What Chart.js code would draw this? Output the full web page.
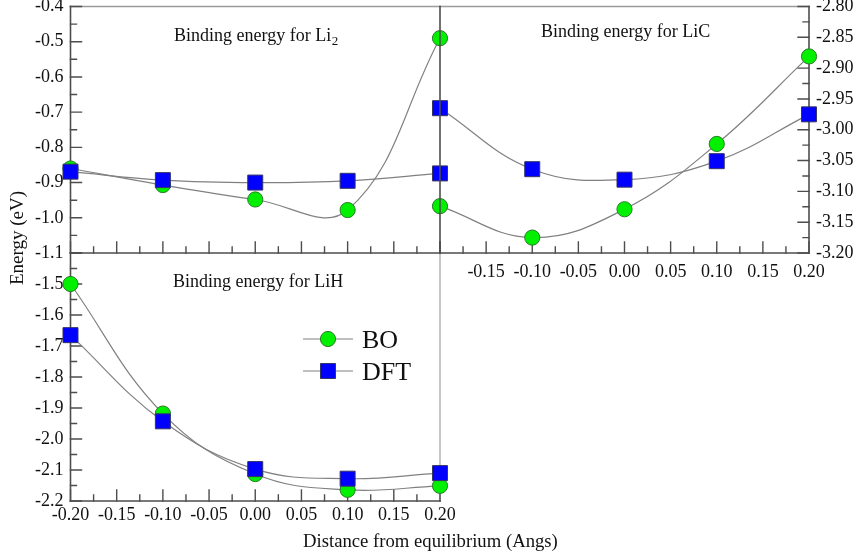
<!DOCTYPE html>
<html>
<head>
<meta charset="utf-8">
<script src="https://cdn.jsdelivr.net/npm/chart.js@4.4.1/dist/chart.umd.min.js"></script>
<style>
  html, body { margin: 0; padding: 0; background: #fff; }
  #wrap { position: relative; width: 857px; height: 558px; }
  #wrap canvas { position: absolute; left: 0; top: 0; }
</style>
</head>
<body>
<div id="wrap">
  <canvas id="li2Chart" width="857" height="558"></canvas>
  <canvas id="lihChart" width="857" height="558"></canvas>
  <canvas id="licChart" width="857" height="558"></canvas>
</div>
<script>
// displacement from equilibrium (Angs), same for every panel
var distances = [-0.20, -0.10, 0.00, 0.10, 0.20];

// binding energies (eV)
var li2BO  = [-0.860, -0.907, -0.948, -0.978, -0.490];
var li2DFT = [-0.869, -0.893, -0.900, -0.895, -0.874];
var licBO  = [-3.124, -3.175, -3.129, -3.023, -2.881];
var licDFT = [-2.965, -3.064, -3.081, -3.051, -2.975];
var lihBO  = [-1.500, -1.918, -2.113, -2.164, -2.151];
var lihDFT = [-1.665, -1.943, -2.097, -2.128, -2.110];

// axis ranges
var xRange   = [-0.20, 0.20];
var li2Range = [-1.1, -0.4];
var licRange = [-3.20, -2.80];
var lihRange = [-2.2, -1.4];

var FONT = "'Liberation Serif', 'Times New Roman', serif";
var LINE = '#808080';
var AXIS = '#4d4d4d';
var TICK_FONT = 18;

function points(ys) {
    return distances.map(function (x, i) { return { x: x, y: ys[i] }; });
}

function boSet(ys) {
    return {
        label: 'BO',
        data: points(ys),
        order: 1,
        borderColor: LINE,
        borderWidth: 1.2,
        tension: 0.4,
        pointStyle: 'circle',
        pointRadius: 7.6,
        pointBackgroundColor: '#00f000',
        pointBorderColor: '#2b7a2b',
        pointBorderWidth: 1,
        clip: false
    };
}

function dftSet(ys) {
    return {
        label: 'DFT',
        data: points(ys),
        order: 0, // squares sit on top of the circles
        borderColor: LINE,
        borderWidth: 1.2,
        tension: 0.4,
        pointStyle: 'rect',
        pointRadius: 10.6,
        pointBackgroundColor: '#0000ff',
        pointBorderColor: '#333366',
        pointBorderWidth: 1,
        clip: false
    };
}

// give an axis a fixed box size so the chart area lands where we want it
function fixedSize(size) {
    return function (scale) {
        if (scale.isHorizontal()) scale.height = size; else scale.width = size;
        scale.paddingTop = scale.paddingBottom = scale.paddingLeft = scale.paddingRight = 0;
    };
}

// frame lines and inward tick marks
var framePlugin = {
    id: 'frame',
    beforeDatasetsDraw: function (chart, args, opts) { drawFrame(chart, opts, false); },
    afterDraw: function (chart, args, opts) { drawFrame(chart, opts, true); }
};

function drawFrame(chart, opts, over) {
    var ctx = chart.ctx, a = chart.chartArea;
    ctx.save();
    ctx.lineCap = 'square';
    (opts.sides || []).forEach(function (s) {
        if (!!s.over !== over) return;
        ctx.strokeStyle = s.color;
        ctx.lineWidth = s.width || 1.6;
        ctx.beginPath();
        if (s.side === 'left')   { ctx.moveTo(a.left, a.top);  ctx.lineTo(a.left, a.bottom); }
        if (s.side === 'right')  { ctx.moveTo(a.right, a.top); ctx.lineTo(a.right, a.bottom); }
        if (s.side === 'top')    { ctx.moveTo(a.left, a.top);  ctx.lineTo(a.right, a.top); }
        if (s.side === 'bottom') { ctx.moveTo(a.left, a.bottom); ctx.lineTo(a.right, a.bottom); }
        ctx.stroke();
    });
    if (!over) {
        ctx.strokeStyle = AXIS;
        ctx.lineWidth = 1.4;
        ['x', 'y'].forEach(function (id) {
            var sc = chart.scales[id];
            var vals = sc.ticks.map(function (t) { return t.value; });
            ctx.beginPath();
            vals.forEach(function (v, i) {
                tickMark(ctx, sc, a, sc.getPixelForValue(v), 11);
                if (i < vals.length - 1) {
                    tickMark(ctx, sc, a, sc.getPixelForValue((v + vals[i + 1]) / 2), 6);
                }
            });
            ctx.stroke();
        });
    }
    ctx.restore();
}

function tickMark(ctx, sc, a, p, len) {
    if (sc.isHorizontal()) {
        ctx.moveTo(p, a.bottom); ctx.lineTo(p, a.bottom - len);
    } else if (sc.position === 'right') {
        ctx.moveTo(a.right, p); ctx.lineTo(a.right - len, p);
    } else {
        ctx.moveTo(a.left, p); ctx.lineTo(a.left + len, p);
    }
}

// free text: panel captions, axis titles and the legend
var notesPlugin = {
    id: 'notes',
    afterDraw: function (chart, args, opts) {
        var ctx = chart.ctx;
        ctx.save();
        ctx.fillStyle = '#111';
        (opts.texts || []).forEach(function (t) {
            ctx.save();
            ctx.translate(t.x, t.y);
            if (t.rotate) ctx.rotate(t.rotate);
            ctx.font = t.size + 'px ' + FONT;
            ctx.textAlign = t.align || 'left';
            ctx.textBaseline = 'alphabetic';
            ctx.fillText(t.text, 0, 0);
            if (t.sub) {
                var w = ctx.measureText(t.text).width;
                ctx.font = Math.round(t.size * 0.72) + 'px ' + FONT;
                ctx.fillText(t.sub, w + 0.5, 4);
            }
            ctx.restore();
        });
        if (opts.legend) {
            var L = opts.legend;
            chart.data.datasets.forEach(function (ds, i) {
                var y = L.y + i * L.gap;
                ctx.strokeStyle = ds.borderColor;
                ctx.lineWidth = ds.borderWidth;
                ctx.beginPath();
                ctx.moveTo(L.x, y); ctx.lineTo(L.x + L.len, y);
                ctx.stroke();
                ctx.fillStyle = ds.pointBackgroundColor;
                ctx.strokeStyle = ds.pointBorderColor;
                ctx.lineWidth = ds.pointBorderWidth;
                Chart.helpers.drawPoint(ctx, {
                    pointStyle: ds.pointStyle,
                    radius: ds.pointRadius,
                    rotation: 0,
                    borderWidth: ds.pointBorderWidth
                }, L.x + L.len / 2, y);
                ctx.fillStyle = '#111';
                ctx.font = L.size + 'px ' + FONT;
                ctx.textAlign = 'left';
                ctx.textBaseline = 'alphabetic';
                ctx.fillText(ds.label, L.x + L.len + 9, y + L.size * 0.33);
            });
        }
        ctx.restore();
    }
};

function makePanel(id, sets, yRange, cfg) {
    return new Chart(document.getElementById(id), {
        type: 'line',
        data: { datasets: sets },
        plugins: [framePlugin, notesPlugin],
        options: {
            responsive: false,
            animation: false,
            devicePixelRatio: 1,
            layout: { autoPadding: false, padding: cfg.padding },
            plugins: {
                legend: { display: false },
                tooltip: { enabled: false },
                frame: { sides: cfg.sides },
                notes: { texts: cfg.texts || [], legend: cfg.legend }
            },
            scales: {
                x: {
                    type: 'linear',
                    position: 'bottom',
                    min: xRange[0], max: xRange[1],
                    afterFit: fixedSize(cfg.xSize),
                    grid: { display: false, drawTicks: false },
                    border: { display: false },
                    ticks: {
                        display: cfg.xLabels !== false,
                        stepSize: 0.05,
                        autoSkip: false,
                        maxRotation: 0,
                        padding: cfg.xPad || 4,
                        color: '#111',
                        font: { family: FONT, size: TICK_FONT },
                        callback: function (v) {
                            if (cfg.skipX !== undefined && Math.abs(v - cfg.skipX) < 1e-6) return '';
                            return v.toFixed(2);
                        }
                    }
                },
                y: {
                    type: 'linear',
                    position: cfg.yPos || 'left',
                    min: yRange[0], max: yRange[1],
                    afterFit: fixedSize(cfg.ySize),
                    grid: { display: false, drawTicks: false },
                    border: { display: false },
                    ticks: {
                        stepSize: cfg.yStep,
                        autoSkip: false,
                        padding: 7,
                        color: '#111',
                        font: { family: FONT, size: TICK_FONT },
                        callback: function (v) {
                            if (cfg.skipY !== undefined && Math.abs(v - cfg.skipY) < 1e-6) return '';
                            return v.toFixed(cfg.yDigits);
                        }
                    }
                }
            }
        }
    });
}

// Li2 panel, top left
makePanel('li2Chart', [boSet(li2BO), dftSet(li2DFT)], li2Range, {
    padding: { left: 0, top: 6.5, right: 417, bottom: 0 },
    xSize: 305, ySize: 70.5,
    yStep: 0.1, yDigits: 1,
    xLabels: false,
    sides: [
        { side: 'top', color: '#9a9a9a' },
        { side: 'left', color: AXIS },
        { side: 'bottom', color: AXIS }
    ],
    texts: [
        { text: 'Binding energy for Li', sub: '2', x: 174, y: 41, size: 18 }
    ]
});

// LiH panel, bottom left
makePanel('lihChart', [boSet(lihBO), dftSet(lihDFT)], lihRange, {
    padding: { left: 0, top: 253, right: 417, bottom: 0 },
    xSize: 57, ySize: 70.5,
    yStep: 0.1, yDigits: 1,
    skipY: -1.4,
    xPad: 3,
    sides: [
        { side: 'right', color: '#a8a8a8', width: 1.3 },
        { side: 'left', color: AXIS },
        { side: 'bottom', color: AXIS }
    ],
    texts: [
        { text: 'Binding energy for LiH', x: 173, y: 287, size: 18 },
        { text: 'Distance from equilibrium (Angs)', x: 303, y: 546.5, size: 18.7 },
        { text: 'Energy (eV)', x: 23, y: 238, size: 19, align: 'center', rotate: -Math.PI / 2 }
    ],
    legend: { x: 303, y: 339, gap: 32, len: 50, size: 26 }
});

// LiC panel, top right
makePanel('licChart', [boSet(licBO), dftSet(licDFT)], licRange, {
    padding: { left: 440, top: 6.5, right: 0, bottom: 0 },
    xSize: 305, ySize: 48,
    yPos: 'right',
    yStep: 0.05, yDigits: 2,
    skipX: -0.2,
    xPad: 8,
    sides: [
        { side: 'top', color: '#9a9a9a' },
        { side: 'right', color: AXIS },
        { side: 'bottom', color: AXIS },
        { side: 'left', color: AXIS, over: true }
    ],
    texts: [
        { text: 'Binding energy for LiC', x: 541, y: 37, size: 18 }
    ]
});
</script>
</body>
</html>
